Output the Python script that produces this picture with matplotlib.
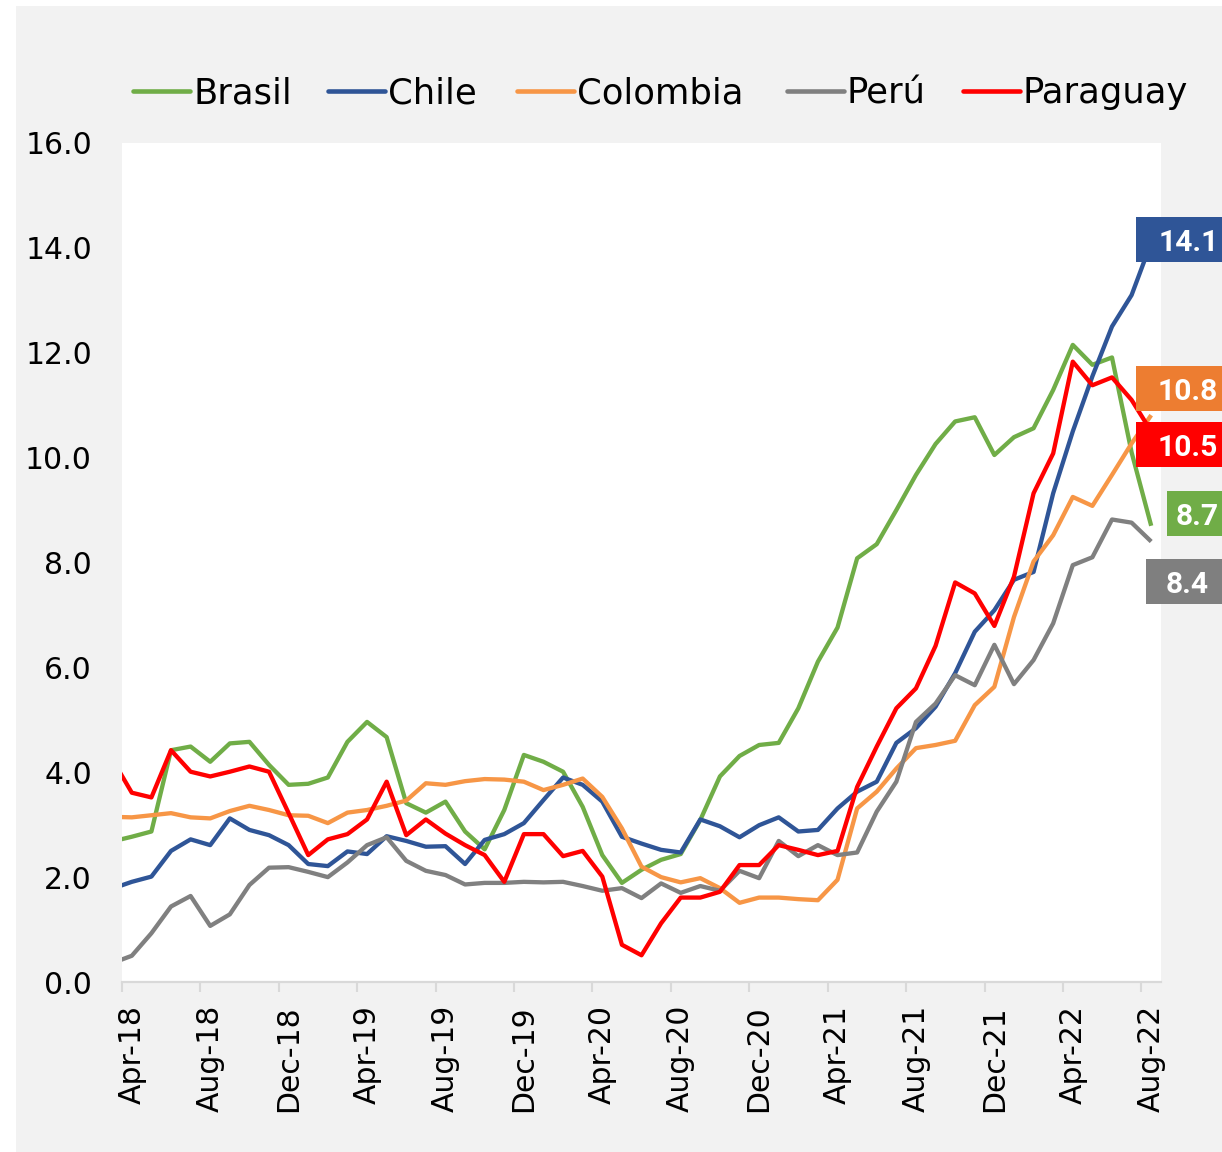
import numpy as np
import matplotlib
matplotlib.use("Agg")
import matplotlib.pyplot as plt
from matplotlib.patches import Rectangle
from matplotlib.lines import Line2D
from matplotlib.transforms import blended_transform_factory

# ---------------- data (Mar-18 .. Aug-22, monthly; Mar-18 lies just outside the axis) ----------------
tick_labels = ['Apr-18', 'Aug-18', 'Dec-18', 'Apr-19', 'Aug-19', 'Dec-19', 'Apr-20',
               'Aug-20', 'Dec-20', 'Apr-21', 'Aug-21', 'Dec-21', 'Apr-22', 'Aug-22']
series_names = ['Brasil', 'Chile', 'Colombia', 'Perú', 'Paraguay']

brasil = [2.68, 2.77, 2.87, 4.42, 4.49, 4.20, 4.55, 4.58, 4.14, 3.76, 3.78, 3.90, 4.58, 4.96,
          4.67, 3.41, 3.23, 3.44, 2.87, 2.53, 3.28, 4.33, 4.20, 4.01, 3.34, 2.42, 1.89, 2.14,
          2.33, 2.44, 3.09, 3.92, 4.31, 4.52, 4.56, 5.22, 6.11, 6.76, 8.08, 8.35, 9.00, 9.67,
          10.26, 10.69, 10.77, 10.05, 10.39, 10.56, 11.29, 12.15, 11.77, 11.91, 10.10, 8.70]
chile = [1.78, 1.91, 2.01, 2.50, 2.72, 2.61, 3.12, 2.90, 2.80, 2.61, 2.25, 2.21, 2.49, 2.44,
         2.78, 2.69, 2.58, 2.59, 2.25, 2.71, 2.82, 3.03, 3.47, 3.90, 3.76, 3.44, 2.77, 2.64,
         2.52, 2.47, 3.10, 2.97, 2.76, 2.99, 3.14, 2.87, 2.90, 3.31, 3.63, 3.82, 4.56, 4.84,
         5.25, 5.89, 6.68, 7.09, 7.67, 7.82, 9.32, 10.50, 11.55, 12.50, 13.10, 14.10]
colombia = [3.15, 3.14, 3.18, 3.22, 3.14, 3.12, 3.26, 3.36, 3.28, 3.18, 3.17, 3.03, 3.23, 3.28,
            3.36, 3.46, 3.79, 3.76, 3.83, 3.87, 3.86, 3.82, 3.66, 3.76, 3.88, 3.53, 2.93, 2.20,
            2.00, 1.90, 1.98, 1.79, 1.51, 1.61, 1.61, 1.58, 1.56, 1.95, 3.31, 3.63, 4.07, 4.46,
            4.52, 4.60, 5.28, 5.63, 6.96, 8.02, 8.52, 9.25, 9.08, 9.67, 10.27, 10.81]
peru = [0.36, 0.50, 0.93, 1.44, 1.64, 1.07, 1.29, 1.85, 2.18, 2.19, 2.10, 2.00, 2.28, 2.61,
        2.76, 2.31, 2.12, 2.04, 1.86, 1.89, 1.89, 1.91, 1.90, 1.91, 1.83, 1.74, 1.79, 1.60,
        1.88, 1.70, 1.83, 1.74, 2.12, 1.98, 2.69, 2.40, 2.61, 2.42, 2.47, 3.25, 3.82, 4.96,
        5.31, 5.85, 5.66, 6.43, 5.68, 6.14, 6.84, 7.95, 8.10, 8.82, 8.76, 8.40]
paraguay = [4.25, 3.61, 3.52, 4.42, 4.01, 3.92, 4.01, 4.11, 4.01, 3.22, 2.42, 2.72, 2.82, 3.10,
            3.82, 2.80, 3.10, 2.83, 2.61, 2.42, 1.91, 2.82, 2.82, 2.40, 2.50, 2.01, 0.71, 0.51,
            1.12, 1.61, 1.61, 1.72, 2.23, 2.23, 2.61, 2.52, 2.42, 2.50, 3.72, 4.49, 5.22, 5.60,
            6.41, 7.62, 7.41, 6.79, 7.73, 9.32, 10.08, 11.83, 11.38, 11.53, 11.10, 10.50]

# ---------------- styles ----------------
line_colors = ['#70AD47', '#2F5597', '#F79646', '#808080', '#FF0000']
box_colors = ['#70AD47', '#2F5597', '#ED7D31', '#7F7F7F', '#FF0000']
# end-label placement (axes-fraction x of box left / text left, data-y of box centre)
box_left = [1.0058, 0.976, 0.976, 0.9856, 0.976]
text_left = [1.0144, 0.998, 0.997, 1.0048, 0.997]
box_yc = [8.94, 14.16, 11.31, 7.63, 10.25]
# legend handle start (pixels from left)
leg_x0 = [133, 328, 517, 787, 963]

plt.rcParams['font.family'] = ['DejaVu Sans']

W, H = 1222, 1152
fig = plt.figure(figsize=(W / 100, H / 100), dpi=100, facecolor='white')
fig.patches.append(Rectangle((16 / W, 0), 1 - 16 / W, 1 - 6 / H, transform=fig.transFigure,
                             facecolor='#F2F2F2', edgecolor='none', zorder=-10))

ax = fig.add_axes([122 / W, 1 - 982 / H, (1161 - 122) / W, (982 - 143) / H])
ax.set_zorder(1)
ax.set_facecolor('white')

x = np.arange(-1, len(brasil) - 1)
all_series = [brasil, chile, colombia, peru, paraguay]
for name, vals, col in zip(series_names, all_series, line_colors):
    ax.plot(x, vals, color=col, lw=3.1, solid_joinstyle='round', solid_capstyle='butt',
            label=name, zorder=3)

ax.set_xlim(-0.5, 52.5)
ax.set_ylim(0, 16)

for s in ['top', 'right', 'left']:
    ax.spines[s].set_visible(False)
ax.spines['bottom'].set_color('#D9D9D9')
ax.spines['bottom'].set_linewidth(1.6)

ax.set_yticks(np.arange(0, 16.1, 2))
ax.set_yticklabels([f'{v:.1f}' for v in np.arange(0, 16.1, 2)])
ax.tick_params(axis='y', length=0, pad=21.6, labelsize=21.5)

ax.set_xticks(np.arange(0, 53, 4))
ax.set_xticklabels(tick_labels, rotation=90)
ax.tick_params(axis='x', which='major', length=0, pad=16.5, labelsize=21.5)
ax.set_xticks(np.arange(-0.5, 52, 4), minor=True)
ax.tick_params(axis='x', which='minor', length=7.2, width=1.5, color='#D9D9D9')

# end-value labels
trans = blended_transform_factory(ax.transAxes, ax.transData)
box_h = 45 / 52.44
for i, vals in enumerate(all_series):
    r = Rectangle((box_left[i], box_yc[i] - box_h / 2), 0.2, box_h, transform=trans,
                  facecolor=box_colors[i], edgecolor='none', clip_on=False, zorder=5)
    ax.add_patch(r)
    ax.text(text_left[i], box_yc[i] - 11.5 / 52.44, f'{vals[-1]:.1f}', transform=trans,
            ha='left', va='baseline', color='white', fontsize=21.6, fontweight='bold',
            family=['Roboto', 'DejaVu Sans'], clip_on=False, zorder=6)

# legend (drawn manually so that all labels share one baseline)
leg_y = 1 - 90.5 / H
leg_base = 1 - 103 / H
for x0, name, col in zip(leg_x0, series_names, line_colors):
    fig.add_artist(Line2D([x0 / W, (x0 + 57) / W], [leg_y, leg_y], transform=fig.transFigure,
                          color=col, lw=3.3, solid_capstyle='round'))
    fig.text((x0 + 60) / W, leg_base, name, fontsize=25.5, ha='left', va='baseline',
             color='black')

fig.savefig('out.png', dpi=100, facecolor='white')
